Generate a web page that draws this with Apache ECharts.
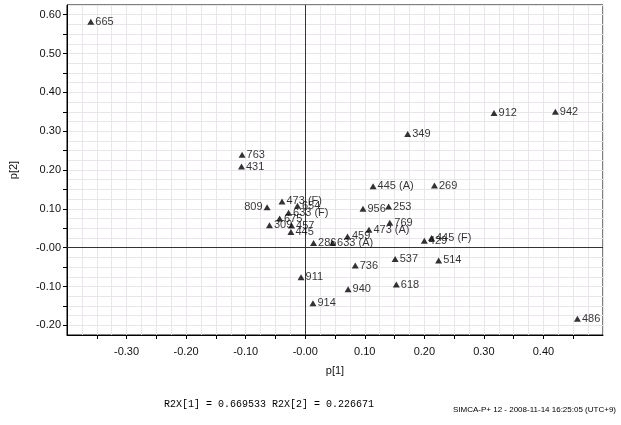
<!DOCTYPE html>
<html>
<head>
<meta charset="utf-8">
<script src="https://cdn.jsdelivr.net/npm/echarts@6/dist/echarts.min.js"></script>
<style>
html,body{margin:0;padding:0;background:#fff;}
#chart{width:621px;height:425px;}
</style>
</head>
<body>
<div id="chart"></div>
<script>
// ---- data ----
var pointNames = ['665','763','431','912','942','349','445 (A)','269','956','253','769','473 (A)','429','445 (F)','459','286','633 (A)','473 (F)','654','633 (F)','675','809','309','457','445','537','514','736','911','618','940','914','486'];
var p1Values = [-0.360,-0.106,-0.107,0.317,0.420,0.172,0.114,0.217,0.097,0.140,0.142,0.107,0.200,0.212,0.071,0.014,0.046,-0.039,-0.013,-0.028,-0.043,-0.064,-0.060,-0.023,-0.024,0.151,0.224,0.084,-0.007,0.153,0.072,0.013,0.457];
var p2Values = [0.582,0.239,0.209,0.347,0.350,0.293,0.158,0.160,0.100,0.106,0.064,0.046,0.018,0.025,0.029,0.012,0.012,0.119,0.108,0.090,0.075,0.104,0.058,0.057,0.040,-0.029,-0.033,-0.046,-0.076,-0.095,-0.107,-0.143,-0.183];
var leftLabelNames = ['809'];

var xTickValues = [-0.35,-0.3,-0.25,-0.2,-0.15,-0.1,-0.05,0,0.05,0.1,0.15,0.2,0.25,0.3,0.35,0.4,0.45];
var xLabelValues = [-0.3,-0.2,-0.1,0,0.1,0.2,0.3,0.4];
var yTickValues = [-0.2,-0.15,-0.1,-0.05,0,0.05,0.1,0.15,0.2,0.25,0.3,0.35,0.4,0.45,0.5,0.55,0.6];
var yLabelValues = [-0.2,-0.1,0,0.1,0.2,0.3,0.4,0.5,0.6];

var xName = 'p[1]';
var yName = 'p[2]';
var footerText = 'R2X[1] = 0.669533 R2X[2] = 0.226671';
var stampText = 'SIMCA-P+ 12 - 2008-11-14 16:25:05 (UTC+9)';

// ---- build ----
function fmt(v){ return Math.abs(v) < 1e-9 ? '-0.00' : v.toFixed(2); }

var seriesData = pointNames.map(function(n, i){
  var item = { name: n, value: [p1Values[i], p2Values[i]] };
  if (leftLabelNames.indexOf(n) >= 0) item.label = { position: 'left' };
  return item;
});

var gridColor = '#e9e5eb';
var labelFont = { fontFamily: 'Liberation Sans, Arial, sans-serif', fontSize: 11, color: '#111' };

var chart = echarts.init(document.getElementById('chart'), null, { renderer: 'canvas' });
chart.setOption({
  animation: false,
  backgroundColor: '#fff',
  grid: { left: 64, right: 18, top: 5, bottom: 90, show: true, borderColor: '#000', borderWidth: 1, backgroundColor: 'transparent' },
  xAxis: [
    {
      type: 'value', min: -0.4, max: 0.5, position: 'bottom',
      axisLine: { show: true, onZero: false, lineStyle: { color: '#000', width: 1 } },
      axisTick: { show: true, customValues: xTickValues, length: 4, inside: false, lineStyle: { color: '#000' } },
      axisLabel: Object.assign({ customValues: xLabelValues, formatter: fmt, margin: 11 }, labelFont),
      splitLine: { show: false },
      name: xName, nameLocation: 'middle', nameGap: 30,
      nameTextStyle: { fontFamily: 'Liberation Sans, Arial, sans-serif', fontSize: 11, color: '#111' }
    },
    {
      type: 'value', min: -0.4, max: 0.5, interval: 0.025, position: 'top',
      axisLine: { show: false }, axisTick: { show: false }, axisLabel: { show: false },
      splitLine: { show: true, lineStyle: { color: gridColor, width: 1 } }
    }
  ],
  yAxis: [
    {
      type: 'value', min: -0.225, max: 0.625, position: 'left',
      axisLine: { show: true, onZero: false, lineStyle: { color: '#000', width: 1 } },
      axisTick: { show: true, customValues: yTickValues, length: 4, inside: false, lineStyle: { color: '#000' } },
      axisLabel: Object.assign({ customValues: yLabelValues, formatter: fmt, margin: 6 }, labelFont),
      splitLine: { show: false },
      name: yName, nameLocation: 'middle', nameGap: 48, nameRotate: 90,
      nameTextStyle: { fontFamily: 'Liberation Sans, Arial, sans-serif', fontSize: 11, color: '#111' }
    },
    {
      type: 'value', min: -0.225, max: 0.625, interval: 0.025, position: 'right',
      axisLine: { show: false }, axisTick: { show: false }, axisLabel: { show: false },
      splitLine: { show: true, lineStyle: { color: gridColor, width: 1 } }
    }
  ],
  series: [{
    type: 'scatter',
    xAxisIndex: 0, yAxisIndex: 0,
    symbol: 'triangle',
    symbolSize: [7, 6],
    itemStyle: { color: '#000' },
    label: {
      show: true, position: 'right', distance: 1,
      formatter: function(p){ return p.name; },
      fontFamily: 'Liberation Sans, Arial, sans-serif', fontSize: 11, color: '#000'
    },
    labelLayout: { hideOverlap: false },
    data: seriesData,
    markLine: {
      silent: true, symbol: 'none', label: { show: false },
      lineStyle: { color: '#333', width: 1, type: 'solid' },
      data: [{ xAxis: 0 }, { yAxis: 0 }]
    },
    z: 5
  }],
  graphic: [
    { type: 'text', left: 164, top: 399, style: { text: footerText, fontFamily: 'Liberation Mono, Courier New, monospace', fontSize: 10, fill: '#000' } },
    { type: 'text', right: 5, top: 406, style: { text: stampText, fontFamily: 'Liberation Sans, Arial, sans-serif', fontSize: 8, fill: '#000' } }
  ]
});
</script>
</body>
</html>
